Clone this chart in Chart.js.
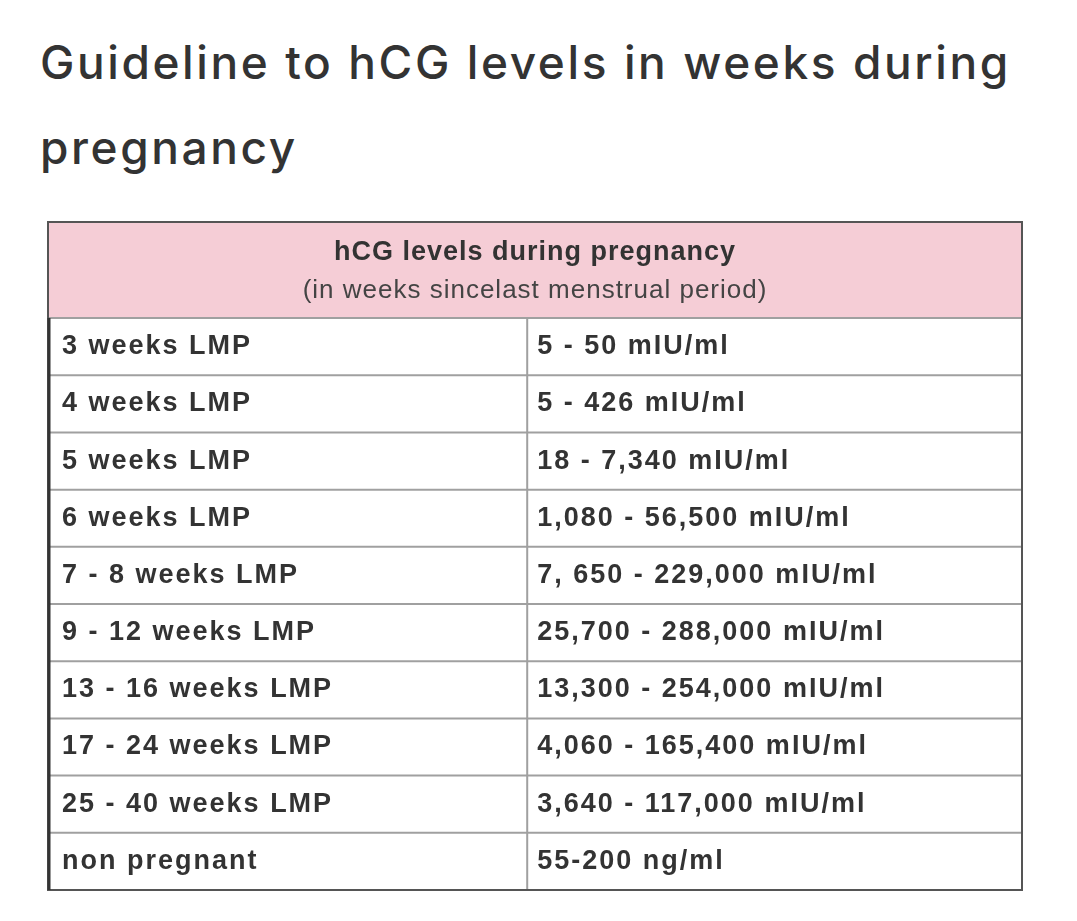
<!DOCTYPE html>
<html>
<head>
<meta charset="utf-8">
<script src="https://cdn.jsdelivr.net/npm/chart.js@4"></script>
<style>
  body { margin: 0; background: #fff; width: 1077px; height: 921px; overflow: hidden; }
  h1 { position: absolute; left: 40px; top: 20px; margin: 0; font: 500 46px/85px "Inter", "Noto Sans", sans-serif; letter-spacing: 2.6px; color: #333; width: 1020px; }
  #wrap { position: absolute; left: 0; top: 0; width: 1077px; height: 921px; }
</style>
</head>
<body>
<h1>Guideline to hCG levels in weeks during pregnancy</h1>
<div id="wrap"><canvas id="tbl"></canvas></div>
<script>
const headerTitle = 'hCG levels during pregnancy';
const headerSub = '(in weeks sincelast menstrual period)';
const weekLabels = ['3 weeks LMP', '4 weeks LMP', '5 weeks LMP', '6 weeks LMP', '7 - 8 weeks LMP',
  '9 - 12 weeks LMP', '13 - 16 weeks LMP', '17 - 24 weeks LMP', '25 - 40 weeks LMP', 'non pregnant'];
const levelLabels = ['5 - 50 mIU/ml', '5 - 426 mIU/ml', '18 - 7,340 mIU/ml', '1,080 - 56,500 mIU/ml',
  '7, 650 - 229,000 mIU/ml', '25,700 - 288,000 mIU/ml', '13,300 - 254,000 mIU/ml',
  '4,060 - 165,400 mIU/ml', '3,640 - 117,000 mIU/ml', '55-200 ng/ml'];

const HEADER_ROWS = 1.68;
const SPLIT = 0.492;

const tablePlugin = {
  id: 'tablePlugin',
  afterDraw(chart) {
    const { ctx, scales: { x, y } } = chart;
    const L = x.getPixelForValue(0), R = x.getPixelForValue(1), M = x.getPixelForValue(SPLIT);
    const T = y.getPixelForValue(-HEADER_ROWS), H = y.getPixelForValue(0), B = y.getPixelForValue(weekLabels.length);
    ctx.save();
    ctx.fillStyle = '#f5cdd6';
    ctx.fillRect(L, T, R - L, H - T);
    ctx.strokeStyle = '#a0a0a0';
    ctx.lineWidth = 2;
    for (let i = 0; i <= weekLabels.length; i++) {
      const py = y.getPixelForValue(i);
      ctx.beginPath(); ctx.moveTo(L, py); ctx.lineTo(R, py); ctx.stroke();
    }
    ctx.beginPath(); ctx.moveTo(M, H); ctx.lineTo(M, B); ctx.stroke();
    ctx.strokeStyle = '#555';
    ctx.strokeRect(L, T, R - L, B - T);
    ctx.lineWidth = 3;
    ctx.strokeStyle = '#333';
    ctx.beginPath(); ctx.moveTo(L + 1, H); ctx.lineTo(L + 1, B); ctx.stroke();

    ctx.fillStyle = '#333';
    ctx.textAlign = 'center';
    ctx.textBaseline = 'middle';
    ctx.letterSpacing = '1px';
    const cx = x.getPixelForValue(0.5);
    ctx.font = 'bold 27px "Liberation Sans", Arial, sans-serif';
    ctx.fillText(headerTitle, cx, T + 31);
    ctx.font = '26px "Liberation Sans", Arial, sans-serif';
    ctx.fillStyle = '#444';
    ctx.fillText(headerSub, cx, T + 69);

    ctx.textAlign = 'left';
    ctx.letterSpacing = '2px';
    ctx.font = 'bold 27px "Liberation Sans", Arial, sans-serif';
    ctx.fillStyle = '#333';
    weekLabels.forEach((lab, i) => {
      const py = y.getPixelForValue(i + 0.5);
      ctx.fillText(lab, L + 14, py);
      ctx.fillText(levelLabels[i], M + 10, py);
    });
    ctx.restore();
  }
};

new Chart(document.getElementById('tbl'), {
  type: 'scatter',
  data: { datasets: [{ data: weekLabels.map((_, i) => ({ x: 0, y: i + 0.5 })), pointRadius: 0 }] },
  options: {
    responsive: true, maintainAspectRatio: false, animation: false,
    layout: { padding: { left: 48, right: 55, top: 222, bottom: 31 } },
    plugins: { legend: { display: false }, tooltip: { enabled: false } },
    scales: {
      x: { type: 'linear', min: 0, max: 1, display: false },
      y: { type: 'linear', min: -HEADER_ROWS, max: weekLabels.length, reverse: true, display: false }
    }
  },
  plugins: [tablePlugin]
});
</script>
</body>
</html>
